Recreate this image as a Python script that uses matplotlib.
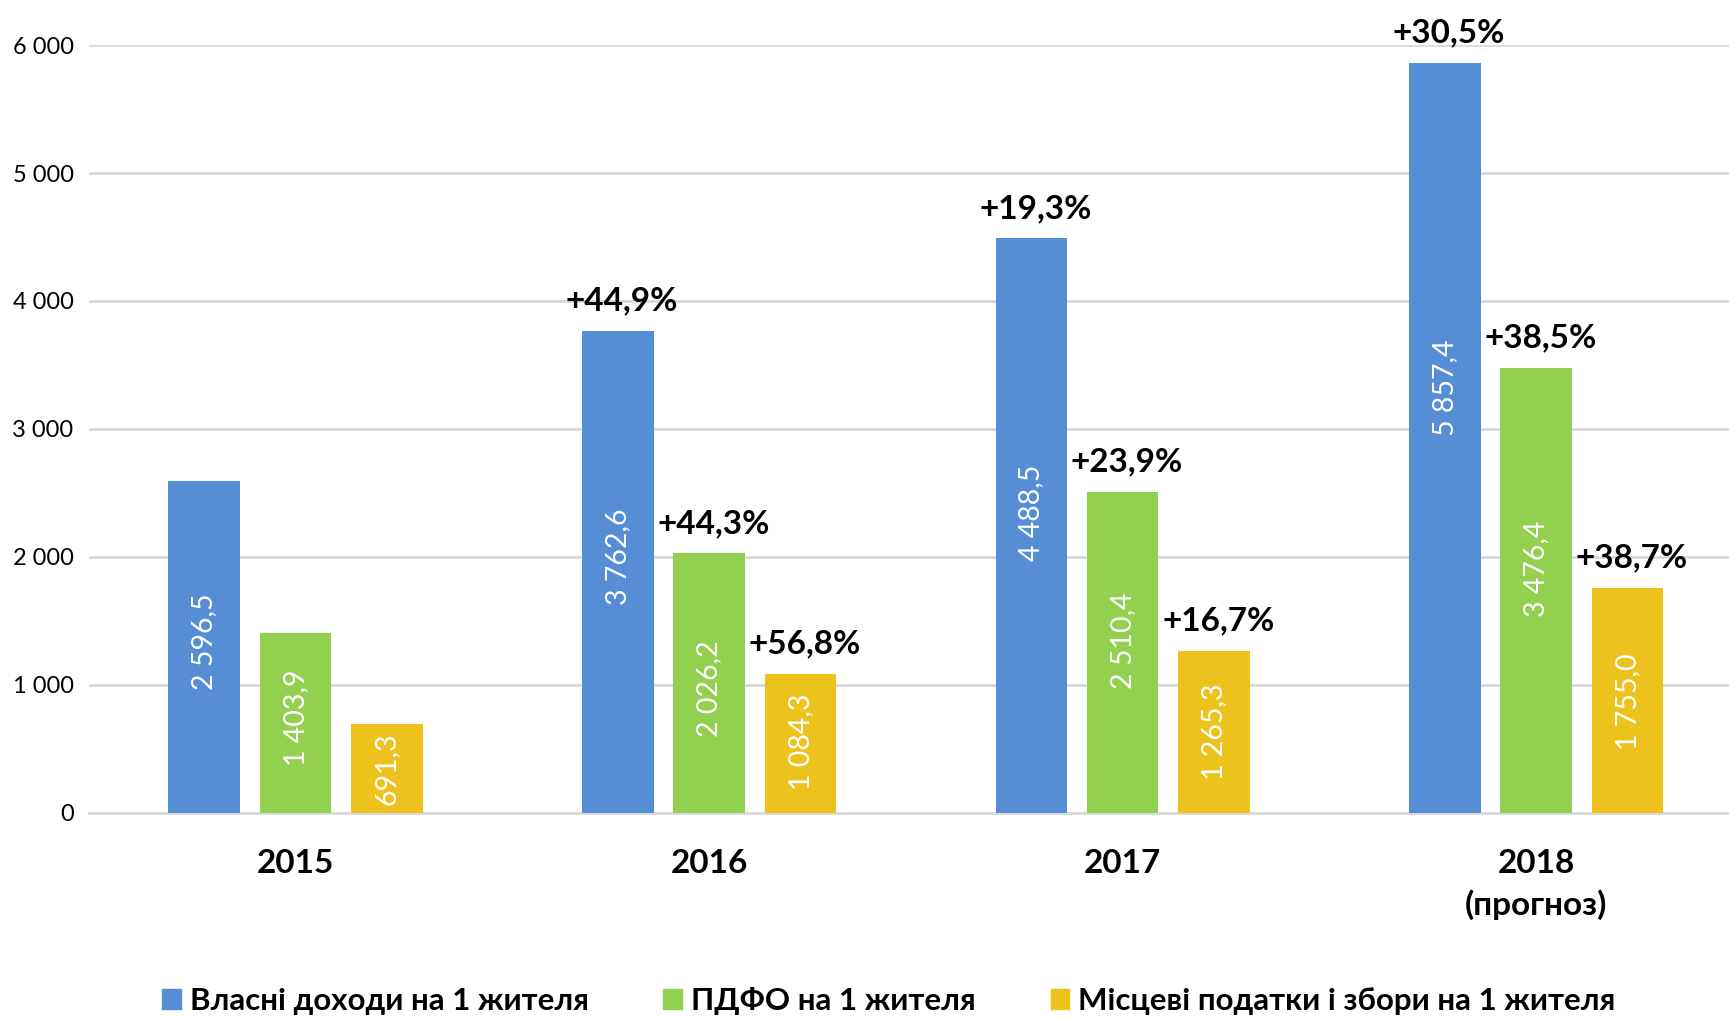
import numpy as np
import matplotlib.pyplot as plt
from matplotlib.patches import Patch

plt.rcParams['font.family'] = ['Lato', 'Open Sans', 'DejaVu Sans']

# дані
years = ['2015', '2016', '2017', '2018\n(прогноз)']
series_names = ['Власні доходи на 1 жителя', 'ПДФО на 1 жителя',
                'Місцеві податки і збори на 1 жителя']
own_income = [2596.5, 3762.6, 4488.5, 5857.4]
pdfo = [1403.9, 2026.2, 2510.4, 3476.4]
local_taxes = [691.3, 1084.3, 1265.3, 1755.0]
growth_own = ['', '+44,9%', '+19,3%', '+30,5%']
growth_pdfo = ['', '+44,3%', '+23,9%', '+38,5%']
growth_local = ['', '+56,8%', '+16,7%', '+38,7%']
y_ticks = [0, 1000, 2000, 3000, 4000, 5000, 6000]

colors = ['#558ED5', '#92D050', '#EEC21C']
# положення підписів всередині стовпців (частка висоти)
label_frac = [[0.515, 0.532, 0.522, 0.567],
              [0.53, 0.48, 0.534, 0.548],
              [0.5, 0.51, 0.5, 0.496]]


def fmt(v):
    s = f'{v:,.1f}'
    return s.replace(',', ' ').replace('.', ',')


fig = plt.figure(figsize=(17.29, 10.18), dpi=100)
ax = fig.add_axes([0.0514, 0.2017, 0.9567, 0.754])

x = np.arange(len(years))
w = 0.173
step = 0.221
data = [own_income, pdfo, local_taxes]
growth = [growth_own, growth_pdfo, growth_local]

for i, (vals, g) in enumerate(zip(data, growth)):
    xs = x + (i - 1) * step
    ax.bar(xs, vals, width=w, color=colors[i], zorder=3)
    for j, (xi, v, gl) in enumerate(zip(xs, vals, g)):
        ax.text(xi, v * label_frac[i][j], fmt(v), rotation=90, ha='center', va='center',
                color='white', fontsize=20.5, zorder=4)
        if gl:
            ax.text(xi + 0.01, v + 235, gl, ha='center', va='center',
                    fontsize=24, fontweight='bold', color='black', clip_on=False)

ax.set_xlim(-0.5, 3.5)
ax.set_ylim(0, 6000)
ax.set_yticks(y_ticks)
ax.set_yticklabels([f'{t:,}'.replace(',', ' ') for t in y_ticks], fontsize=17)
ax.set_xticks(x)
ax.set_xticklabels(years, fontsize=24, fontweight='bold', linespacing=1.45)
ax.tick_params(axis='both', length=0)
ax.tick_params(axis='x', pad=26)
ax.tick_params(axis='y', pad=11)
ax.yaxis.grid(True, color='#D9D9D9', linewidth=2, zorder=0)
ax.set_axisbelow(True)
for s in ['top', 'right', 'left']:
    ax.spines[s].set_visible(False)
ax.spines['bottom'].set_color('#D9D9D9')
ax.spines['bottom'].set_linewidth(2)

handles = [Patch(color=c) for c in colors]
fig.legend(handles, series_names, loc='center', bbox_to_anchor=(0.514, 0.0167),
           ncol=3, frameon=False, handlelength=0.6, handleheight=0.6,
           handletextpad=0.28, columnspacing=2.4,
           prop={'weight': 'bold', 'size': 22.5})

fig.savefig('out.png', dpi=100)
